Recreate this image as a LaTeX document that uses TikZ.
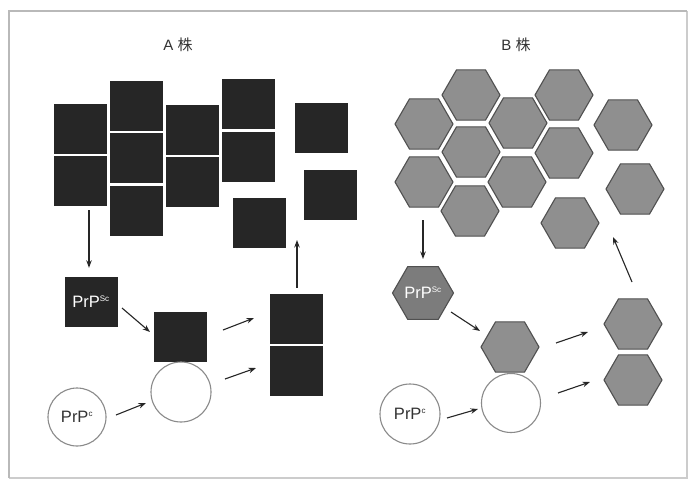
\documentclass[tikz,border=0pt]{standalone}
\usepackage{fontspec}
\setmainfont{Liberation Sans}
\newfontfamily\cjk{Noto Sans CJK SC}
\usetikzlibrary{shapes.geometric,arrows.meta,calc}
\definecolor{sqfill}{HTML}{262626}
\definecolor{hexfill}{HTML}{8F8F8F}
\definecolor{hexdraw}{HTML}{505050}
\definecolor{pscfill}{HTML}{7C7C7C}
\definecolor{circdraw}{HTML}{8A8A8A}
\definecolor{txt}{HTML}{333333}
\begin{document}
\begin{tikzpicture}[x=1pt,y=-1pt,
  sq/.style={rectangle,fill=sqfill,draw=none,minimum width=53pt,minimum height=50pt,inner sep=0pt},
  hexa/.style={regular polygon,regular polygon sides=6,minimum size=58pt,inner sep=0pt,fill=hexfill,draw=hexdraw,line width=1.1pt},
  circ/.style={circle,minimum size=60pt,inner sep=0pt,fill=white,draw=circdraw,line width=1.1pt},
  arr/.style={draw=black!85,line width=1.1pt,-{Stealth[length=7.5pt,width=5.5pt]}},
  title/.style={font=\fontsize{15}{15}\selectfont,text=txt},
  lab/.style={font=\fontsize{16.5}{16.5}\selectfont}
]
\useasboundingbox (0,0) rectangle (689,480);
\fill[white] (0,0) rectangle (689,480);
% frame
\draw[gray!40,line width=1.2pt] (9,478) -- (687,478) -- (687,11);
\draw[gray!55,line width=1.4pt] (9,478) -- (9,11) -- (687,11);

% titles
\node[title] (ta) at (178,45) {A {\cjk 株}};
\node[title] (tb) at (516,45) {B {\cjk 株}};

% ---------- A strain ----------
\node[sq] (a1) at (80.5,128.5) {};
\node[sq] (a2) at (80.5,181) {};
\node[sq] (b1) at (136,106) {};
\node[sq] (b2) at (136,157.5) {};
\node[sq] (b3) at (136,211) {};
\node[sq] (c1) at (192,129.5) {};
\node[sq] (c2) at (192,181.5) {};
\node[sq] (d1) at (248.5,103.5) {};
\node[sq] (d2) at (248.5,156.5) {};
\node[sq] (e1) at (321.5,127.5) {};
\node[sq] (f1) at (330.5,195) {};
\node[sq] (g1) at (259,222.5) {};

\node[sq,text=white,lab] (psc) at (91,301.5) {PrP\textsuperscript{\fontsize{8}{8}\selectfont Sc}};
\node[sq] (mid) at (180.5,337) {};
\node[circ,minimum size=60pt] (cir) at (181,392) {};
\node[circ,minimum size=58pt,text=txt,lab] (pc) at (77,417) {PrP\textsuperscript{\fontsize{8}{8}\selectfont c}};
\node[sq] (r1) at (296,318.5) {};
\node[sq] (r2) at (296,371) {};
\coordinate (upA) at (297,240);

\draw[arr] ($(a2.south)+(8.5,4)$) -- ($(psc.north)+(-2,-8.5)$);
\draw[arr] ($(psc.center)+(31,6.5)$) -- ($(mid.center)+(-30.5,-5)$);
\draw[arr] ($(pc.center)+(39,-2)$) -- ($(cir.center)+(-35,11)$);
\draw[arr] ($(mid.center)+(42.5,-7)$) -- ($(r1.center)+(-42,-0.5)$);
\draw[arr] ($(cir.center)+(44,-13)$) -- ($(r2.center)+(-40,-3)$);
\draw[arr] ($(r1.north)+(1,-5.5)$) -- (upA);

% ---------- B strain ----------
\node[hexa] (h1) at (424,124) {};
\node[hexa] (h2) at (471,95) {};
\node[hexa] (h3) at (518,123) {};
\node[hexa] (h4) at (564,95) {};
\node[hexa] (h5) at (623,125) {};
\node[hexa] (h6) at (424,182) {};
\node[hexa] (h7) at (471,152) {};
\node[hexa] (h8) at (564,153) {};
\node[hexa] (h9) at (517,182) {};
\node[hexa] (h10) at (470,211) {};
\node[hexa] (h11) at (570,223) {};
\node[hexa] (h12) at (635,189) {};

\node[hexa,fill=pscfill,minimum size=59pt,text=white,lab] (hpsc) at (423,293) {PrP\textsuperscript{\fontsize{8}{8}\selectfont Sc}};
\node[hexa] (hmid) at (510,347) {};
\node[circ,minimum size=59pt] (cir2) at (511,403) {};
\node[circ,minimum size=60pt,text=txt,lab] (pc2) at (410,414) {PrP\textsuperscript{\fontsize{8}{8}\selectfont c}};
\node[hexa] (rh1) at (633,324) {};
\node[hexa] (rh2) at (633,380) {};
\coordinate (upB) at (613,237);

\draw[arr] ($(h6.center)+(-1,38)$) -- ($(hpsc.center)+(0,-34)$);
\draw[arr] ($(hpsc.center)+(28,19)$) -- ($(hmid.center)+(-30,-16)$);
\draw[arr] ($(pc2.center)+(37,4)$) -- ($(cir2.center)+(-33,6)$);
\draw[arr] ($(hmid.center)+(46,-4)$) -- ($(rh1.center)+(-45,8)$);
\draw[arr] ($(cir2.center)+(47,-10)$) -- ($(rh2.center)+(-43,2)$);
\draw[arr] ($(rh1.center)+(-1,-42)$) -- (upB);
\end{tikzpicture}
\end{document}
